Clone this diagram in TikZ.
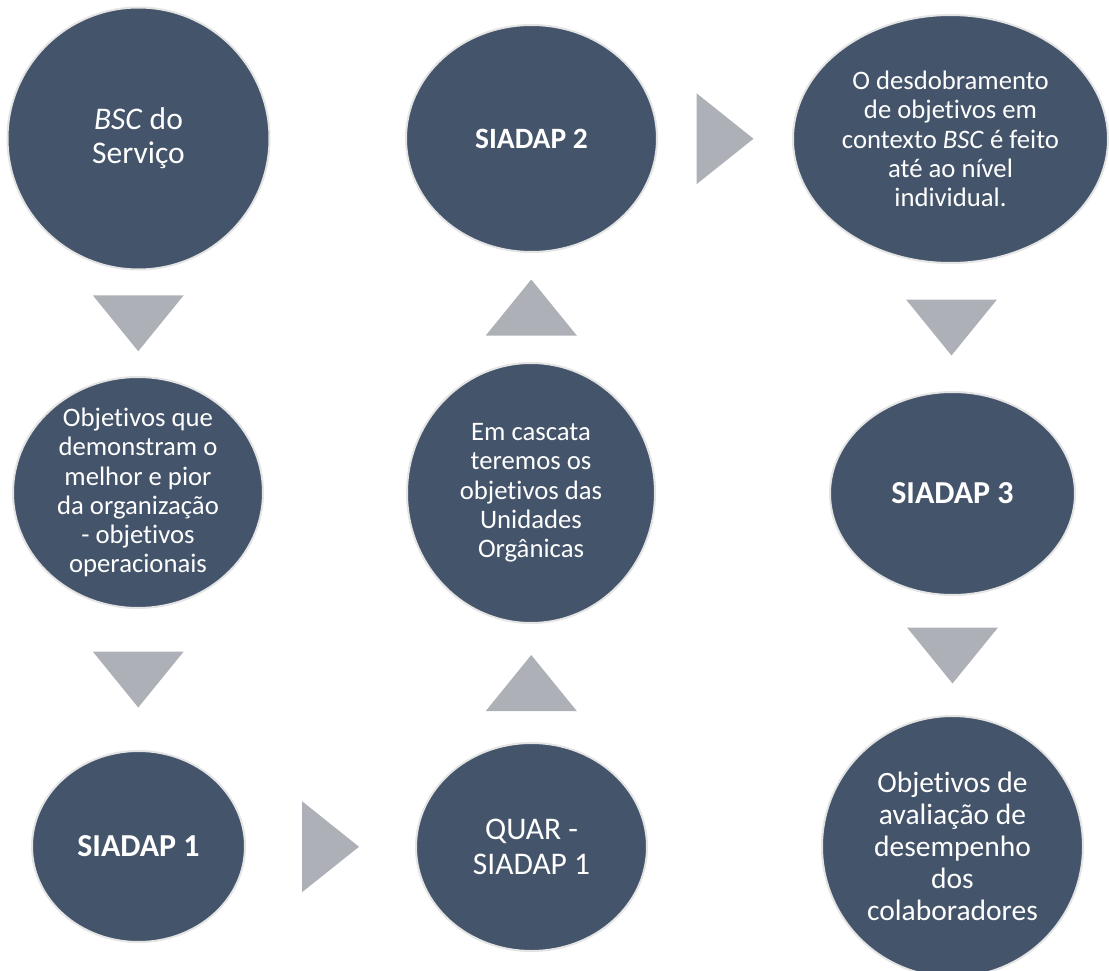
\documentclass[tikz,border=0pt]{standalone}
\usepackage{fontspec}
\setmainfont{Carlito}[Ligatures={NoCommon}]
\usetikzlibrary{shapes.geometric,calc}
\definecolor{discfill}{HTML}{44546A}
\definecolor{discedge}{HTML}{E4E4E4}
\definecolor{arrowgray}{HTML}{AEB0B7}
\tikzset{
  disc/.style={ellipse, fill=discfill, draw=discedge, line width=2pt, inner sep=0pt},
  lbl/.style={text=white, align=center, inner sep=0pt},
  arrowtri/.style={fill=arrowgray}
}
\begin{document}
\begin{tikzpicture}[x=1pt,y=-1pt]
\clip (0,0) rectangle (1109,971);

% discs
\node[disc, minimum width=262pt, minimum height=262pt] (c1) at (138.5,138.5) {};
\node[disc, minimum width=250pt, minimum height=231pt] (c2) at (138,492.5) {};
\node[disc, minimum width=213pt, minimum height=191pt] (c3) at (138.5,846.5) {};
\node[disc, minimum width=231pt, minimum height=208pt] (c4) at (531.5,847) {};
\node[disc, minimum width=248pt, minimum height=260pt] (c5) at (531,493) {};
\node[disc, minimum width=251pt, minimum height=227pt] (c6) at (531.5,138.5) {};
\node[disc, minimum width=315pt, minimum height=248pt] (c7) at (950.5,139) {};
\node[disc, minimum width=245pt, minimum height=203pt] (c8) at (952.5,493.5) {};
\node[disc, minimum width=261pt, minimum height=261pt] (c9) at (952.5,846.5) {};

% texts
\node[lbl, font=\fontsize{31.5}{34}\selectfont] (t1) at (c1) {\textit{BSC} do\\Serviço};
\node[lbl, font=\fontsize{26.7}{29.2}\selectfont] (t2) at (c2) {Objetivos que\\demonstram o\\melhor e pior\\da organização\\- objetivos\\operacionais};
\node[lbl, font=\fontsize{32}{34}\selectfont\bfseries] (t3) at (c3) {SIADAP 1};
\node[lbl, font=\fontsize{31.5}{35}\selectfont] (t4) at (c4) {QUAR -\\SIADAP 1};
\node[lbl, font=\fontsize{26.7}{29.3}\selectfont] (t5) at (c5) {Em cascata\\teremos os\\objetivos das\\Unidades\\Orgânicas};
\node[lbl, font=\fontsize{29.5}{32}\selectfont\bfseries] (t6) at (c6) {SIADAP 2};
\node[lbl, font=\fontsize{26.7}{29.2}\selectfont] (t7) at (c7) {O desdobramento\\de objetivos em\\contexto \textit{BSC} é feito\\até ao nível\\individual.};
\node[lbl, font=\fontsize{32}{34}\selectfont\bfseries] (t8) at (c8) {SIADAP 3};
\node[lbl, font=\fontsize{29.5}{32}\selectfont] (t9) at (c9) {Objetivos de\\avaliação de\\desempenho\\dos\\colaboradores};

% downward arrows
\fill[arrowtri] ($(c1.south)!0.5!(c2.north)$) +(-45.5,-28) -- +(45.5,-28) -- +(0,28) -- cycle;
\fill[arrowtri] ($(c2.south)!0.5!(c3.north)$) +(-45.5,-28) -- +(45.5,-28) -- +(0,28) -- cycle;
\fill[arrowtri] ($(c7.south)!0.5!(c8.north)$) +(-45.5,-28) -- +(45.5,-28) -- +(0,28) -- cycle;
\fill[arrowtri] ($(c8.south)!0.5!(c9.north)$) +(-45.5,-28) -- +(45.5,-28) -- +(0,28) -- cycle;
% upward arrows
\fill[arrowtri] ($(c4.north)!0.5!(c5.south)$) +(-45.5,28) -- +(45.5,28) -- +(0,-28) -- cycle;
\fill[arrowtri] ($(c5.north)!0.5!(c6.south)$) +(-45.5,28) -- +(45.5,28) -- +(0,-28) -- cycle;
% rightward arrows
\fill[arrowtri] ($(c3.east)!0.5!(c4.west)$) +(-28.5,-45.5) -- +(-28.5,45.5) -- +(28.5,0) -- cycle;
\fill[arrowtri] ($(c6.east)!0.5!(c7.west)$) +(-28.5,-45.5) -- +(-28.5,45.5) -- +(28.5,0) -- cycle;
\end{tikzpicture}
\end{document}
